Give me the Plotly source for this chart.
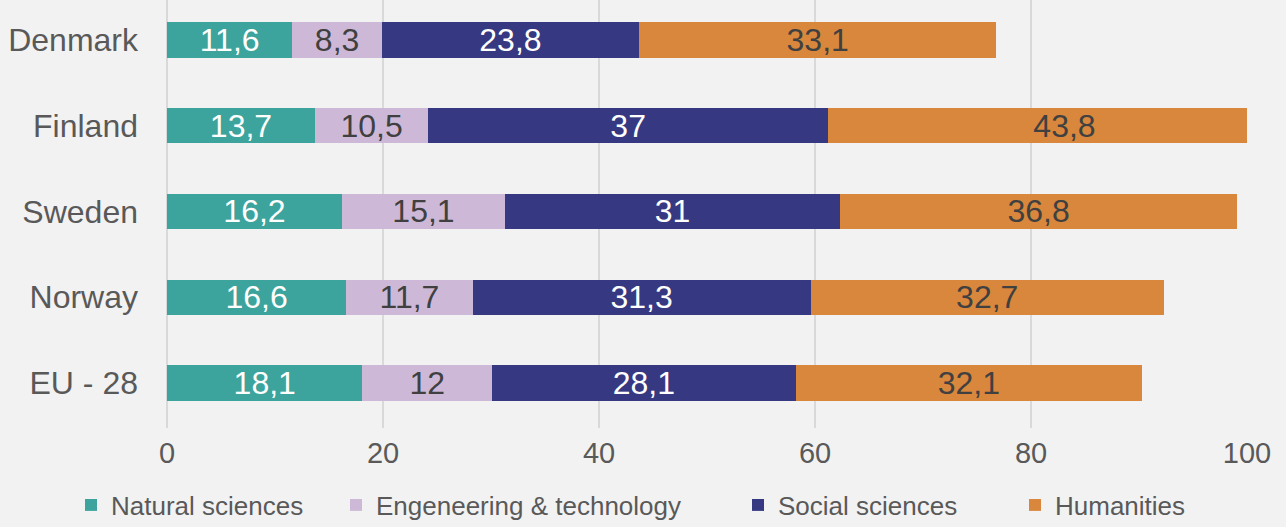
import plotly.graph_objects as go

countries = ["Denmark", "Finland", "Sweden", "Norway", "EU - 28"]
natural = [11.6, 13.7, 16.2, 16.6, 18.1]
engineering = [8.3, 10.5, 15.1, 11.7, 12]
social = [23.8, 37, 31, 31.3, 28.1]
humanities = [33.1, 43.8, 36.8, 32.7, 32.1]

series = [
    ("Natural sciences", natural, "#3ca49d", "white", "legend", 71),
    ("Engeneering & technology", engineering, "#cdb9d7", "#404040", "legend2", 336),
    ("Social sciences", social, "#363981", "white", "legend3", 738),
    ("Humanities", humanities, "#d8873c", "#404040", "legend4", 1015),
]

FONT = "Liberation Sans, Arial, sans-serif"

def fmt(v):
    s = ("%g" % v)
    return s.replace(".", ",")

fig = go.Figure()
for name, vals, color, tcolor, lg, lx in series:
    fig.add_trace(go.Bar(
        name=name, y=countries, x=vals, orientation="h",
        marker=dict(color=color, line=dict(width=0)),
        text=[fmt(v) for v in vals],
        textposition="inside", insidetextanchor="middle", textangle=0,
        constraintext="none",
        textfont=dict(size=32, color=tcolor, family=FONT),
        width=0.41, legend=lg, hoverinfo="skip",
    ))

legends = {}
for i, (name, vals, color, tcolor, lg, lx) in enumerate(series):
    legends[lg] = dict(
        orientation="h", xref="container", yref="container",
        x=lx / 1286, xanchor="left", y=1 - 505 / 527, yanchor="middle",
        font=dict(size=26, color="#595959", family=FONT),
        bgcolor="rgba(0,0,0,0)", itemclick=False,
    )

fig.update_layout(
    barmode="stack",
    width=1286, height=527,
    paper_bgcolor="#f2f2f2", plot_bgcolor="#f2f2f2",
    margin=dict(l=167, r=39, t=0, b=99, pad=0),
    font=dict(family=FONT, color="#595959"),
    showlegend=True,
    **legends,
)
fig.update_xaxes(
    range=[0, 100], dtick=20, showgrid=True, gridcolor="#d9d9d9", gridwidth=1.5,
    zeroline=True, zerolinecolor="#d9d9d9", zerolinewidth=1.5,
    tickfont=dict(size=29, color="#595959", family=FONT),
    ticks="", ticklabelstandoff=5, fixedrange=True,
)
fig.update_yaxes(
    range=[4.525, -0.466], showgrid=False, zeroline=False,
    tickfont=dict(size=32, color="#595959", family=FONT),
    ticks="", ticklabelstandoff=28, fixedrange=True,
)

fig.write_html(
    "out.html",
    config={"displayModeBar": False},
    post_script="document.body.style.margin='0';document.body.style.padding='0';document.body.style.overflow='hidden';",
)
